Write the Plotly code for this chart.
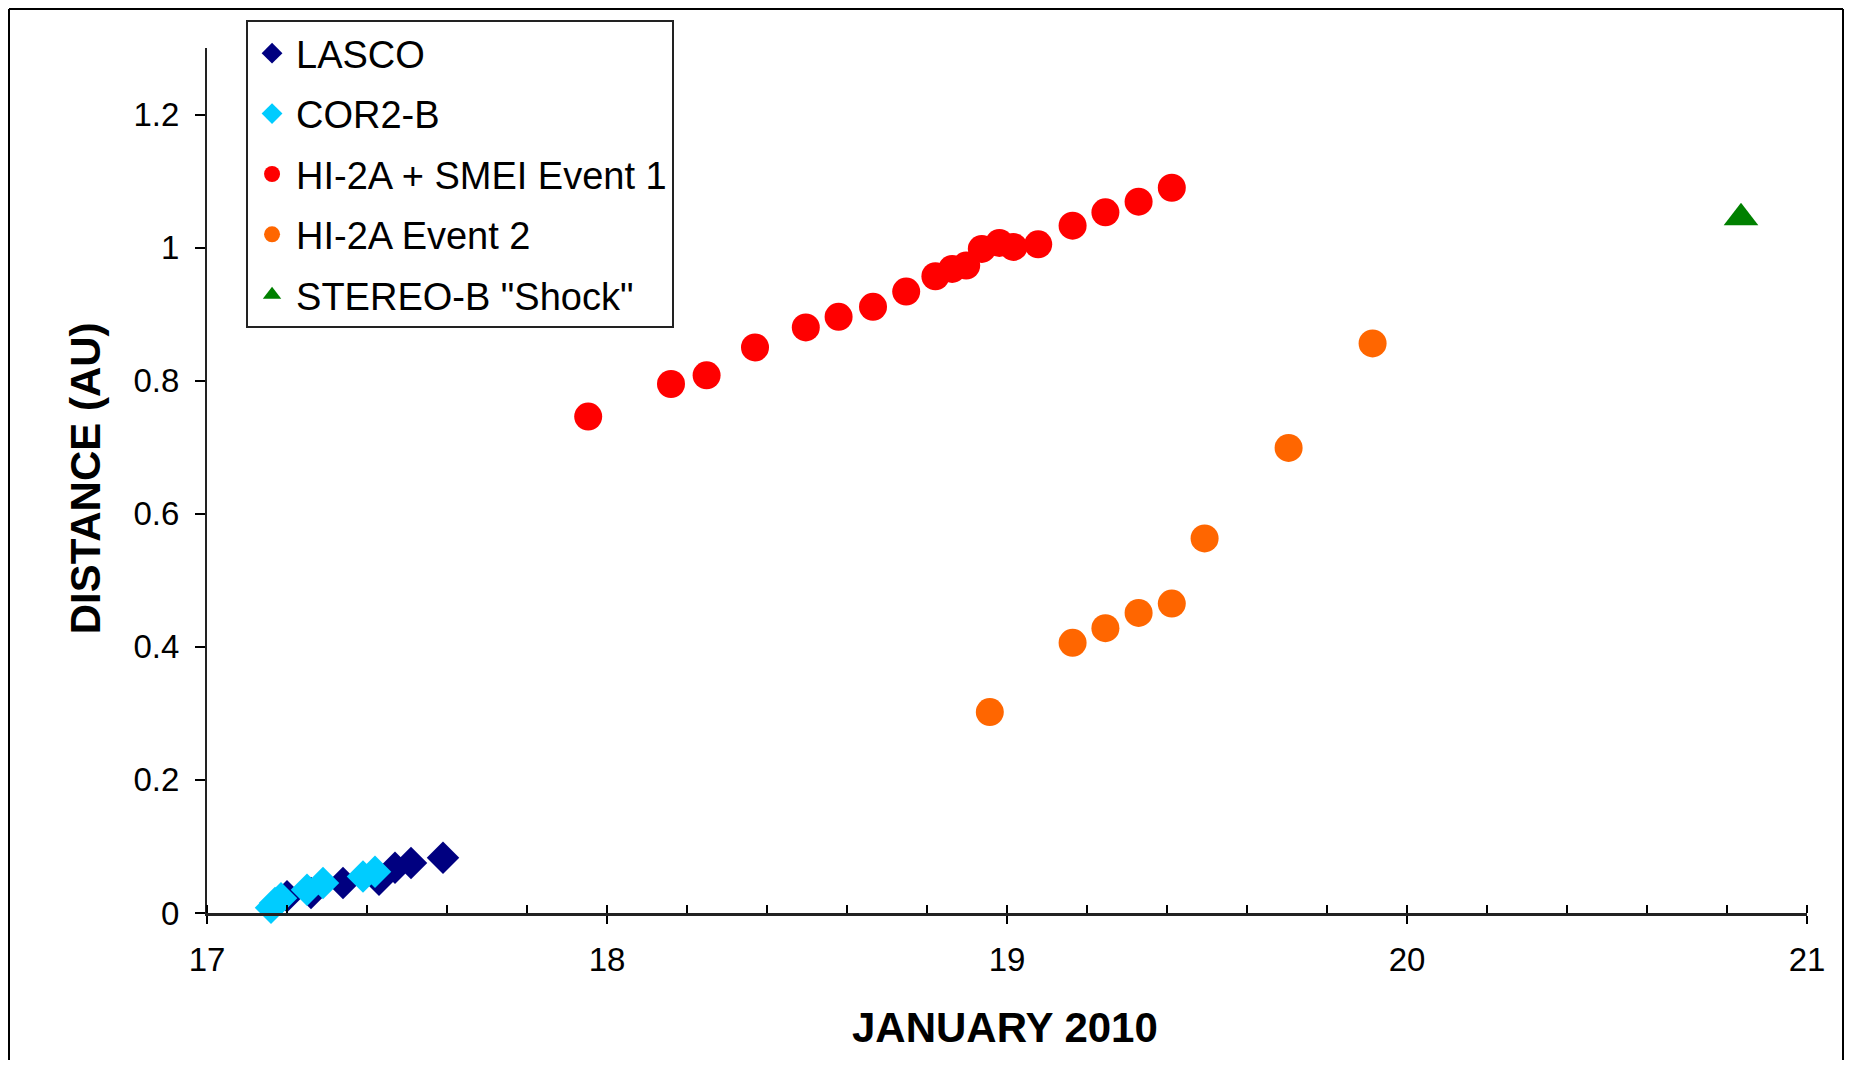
import plotly.graph_objects as go

# ---- data ----
lasco_x = [17.20, 17.26, 17.34, 17.43, 17.47, 17.51, 17.59]
lasco_y = [0.025, 0.030, 0.045, 0.050, 0.068, 0.075, 0.083]

cor2b_x = [17.16, 17.17, 17.185, 17.25, 17.29, 17.39, 17.42]
cor2b_y = [0.008, 0.015, 0.022, 0.035, 0.045, 0.055, 0.062]

ev1_x = [17.953, 18.160, 18.249, 18.370, 18.497, 18.579, 18.665, 18.748, 18.821,
         18.863, 18.898, 18.937, 18.981, 19.016, 19.078, 19.164, 19.246, 19.329, 19.412]
ev1_y = [0.746, 0.795, 0.808, 0.850, 0.880, 0.896, 0.911, 0.934, 0.957,
         0.968, 0.973, 0.998, 1.007, 1.001, 1.005, 1.033, 1.053, 1.069, 1.090]

ev2_x = [18.957, 19.164, 19.246, 19.329, 19.412, 19.494, 19.704, 19.914]
ev2_y = [0.302, 0.406, 0.428, 0.451, 0.465, 0.563, 0.699, 0.856]

shock_x = [20.835]
shock_y = [1.045]

names = ["LASCO", "COR2-B", "HI-2A + SMEI Event 1", "HI-2A Event 2", 'STEREO-B "Shock"']
x_major = [17, 18, 19, 20, 21]
y_ticks = [0, 0.2, 0.4, 0.6, 0.8, 1.0, 1.2]

FONT = "Liberation Sans, Arial, sans-serif"

fig = go.Figure()
series = [
    (lasco_x, lasco_y, "#000080", "diamond", 25),
    (cor2b_x, cor2b_y, "#00CCFF", "diamond", 25),
    (ev1_x, ev1_y, "#FF0000", "circle", 28),
    (ev2_x, ev2_y, "#FF6600", "circle", 28),
    (shock_x, shock_y, "#008000", "triangle-up", 30),
]
for i, (xs, ys, col, sym, sz) in enumerate(series):
    fig.add_trace(go.Scatter(
        x=xs, y=ys, mode="markers", name=names[i], legendgroup=names[i],
        marker=dict(color=col, symbol=sym, size=sz, line=dict(width=0)),
        cliponaxis=False,
    ))

# helper trace for the upper half of the crossing major ticks
fig.add_trace(go.Scatter(x=[None], y=[None], xaxis="x2", showlegend=False))

# outer frame (left, top, right edges; bottom is cut off in the reference)
FX0, FX1, FY0, FY1 = -0.12375, 1.0225, -0.30, 1.0451
frame = [
    dict(type="line", xref="paper", yref="paper", x0=FX0, x1=FX0, y0=FY0, y1=FY1),
    dict(type="line", xref="paper", yref="paper", x0=FX0, x1=FX1, y0=FY1, y1=FY1),
    dict(type="line", xref="paper", yref="paper", x0=FX1, x1=FX1, y0=FY0, y1=FY1),
]
for s in frame:
    s["line"] = dict(color="black", width=2)
    s["layer"] = "below"

fig.update_layout(
    width=1836, height=1052,
    margin=dict(l=199, r=37, t=40, b=147),
    paper_bgcolor="white", plot_bgcolor="white",
    font=dict(family=FONT, color="black"),
    showlegend=True,
    legend=dict(
        x=0.0244, y=1.0324, xanchor="left", yanchor="top",
        bgcolor="white", bordercolor="#222", borderwidth=2,
        font=dict(family=FONT, size=38, color="black"),
        tracegroupgap=8, itemsizing="trace", itemwidth=38,
    ),
    xaxis=dict(
        range=[17, 21], tickvals=x_major, ticks="outside", ticklen=8,
        tickwidth=1.5, tickcolor="black",
        showline=True, linecolor="#222", linewidth=2.5, showgrid=False, zeroline=False,
        tickfont=dict(family=FONT, size=33, color="black"),
        ticklabelstandoff=8,
        minor=dict(dtick=0.2, ticks="inside", ticklen=8, tickwidth=1.5, tickcolor="black",
                   showgrid=False),
    ),
    xaxis2=dict(
        range=[17, 21], overlaying="x", anchor="y", side="bottom",
        tickvals=x_major, ticks="inside", ticklen=8, tickwidth=1.5, tickcolor="black",
        showticklabels=False, showline=False, showgrid=False, zeroline=False,
    ),
    yaxis=dict(
        range=[0, 1.3], tickvals=y_ticks, ticks="outside", ticklen=10,
        tickwidth=1.5, tickcolor="black",
        showline=True, linecolor="#222", linewidth=2, showgrid=False, zeroline=False,
        tickfont=dict(family=FONT, size=33, color="black"),
        ticklabelstandoff=9,
    ),
    annotations=[
        dict(text="<b>JANUARY 2010</b>", xref="paper", yref="paper", x=0.499, y=-0.132,
             xanchor="center", yanchor="middle", showarrow=False,
             font=dict(family=FONT, size=42, color="black")),
        dict(text="<b>DISTANCE (AU)</b>", xref="paper", yref="paper", x=-0.0754, y=0.503,
             xanchor="center", yanchor="middle", showarrow=False, textangle=-90,
             font=dict(family=FONT, size=42, color="black")),
    ],
    shapes=frame,
)

fig.write_html("out.html")
